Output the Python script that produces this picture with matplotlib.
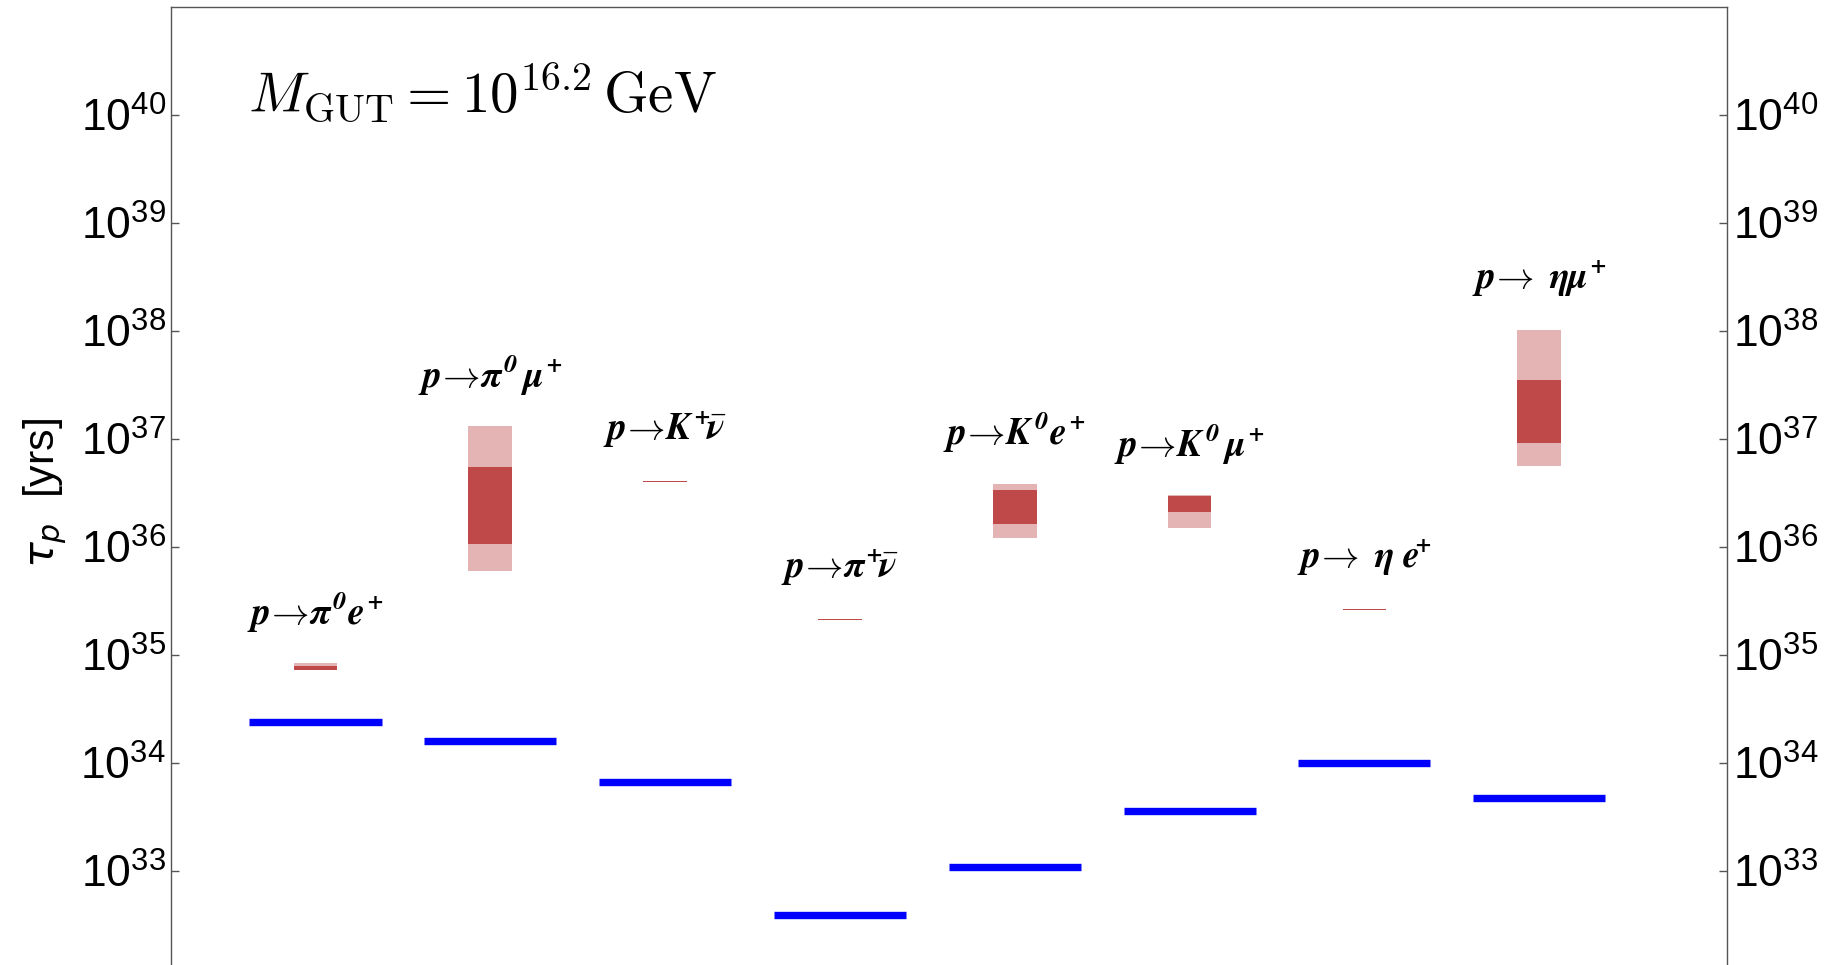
import matplotlib
matplotlib.use('Agg')
import matplotlib.pyplot as plt
from matplotlib.ticker import FixedLocator, NullLocator

plt.rcParams['font.family'] = ['Liberation Sans', 'DejaVu Sans']
plt.rcParams['mathtext.fontset'] = 'custom'
plt.rcParams['mathtext.it'] = 'STIXGeneral:italic:bold'
plt.rcParams['mathtext.rm'] = 'STIXGeneral:italic:bold'
plt.rcParams['mathtext.bf'] = 'STIXGeneral:italic:bold'

# canales de desintegracion
canales = [r'$p\!\to\! \pi^0 e^{\!+}$', r'$p\!\to\! \pi^0\, \mu^{\!+}$', r'$p\!\to\! K^{+}\!\bar{\nu}$',
           r'$p\!\to\! \pi^{+}\!\bar{\nu}$', r'$p\!\to\! K^0 e^{\!+}$', r'$p\!\to\! K^0\, \mu^{\!+}$',
           r'$p\!\to\ \eta\ e^{\!\!\!+}$', r'$p\!\to\ \eta\mu^{\!+}$']

# cotas experimentales (Super-K), en anos
limite_exp = [2.4e34, 1.6e34, 6.6e33, 3.9e32, 1.1e33, 3.6e33, 1.0e34, 4.7e33]

# predicciones: rango exterior (claro) y rango interior (oscuro), log10 de anos
ext_bajo = [34.864, 35.774, 36.599, 35.324, 36.085, 36.180, 35.414, 36.746]
ext_alto = [34.926, 37.117, 36.611, 35.336, 36.587, 36.484, 35.426, 38.010]
int_bajo = [34.864, 36.030, 36.602, 35.327, 36.210, 36.320, 35.417, 36.966]
int_alto = [34.900, 36.744, 36.608, 35.333, 36.530, 36.475, 35.423, 37.546]

# marcas del eje y
marcas_y = [1e33, 1e34, 1e35, 1e36, 1e37, 1e38, 1e39, 1e40]

pos = list(range(1, len(canales) + 1))

fig = plt.figure(figsize=(18.36, 9.65), dpi=100)
ax = fig.add_axes([0.0934, -0.0145, 0.8473, 1.0073])
ax.set_yscale('log')

claro = '#e4b4b4'
oscuro = '#bf4949'

for i, x in enumerate(pos):
    lo, hi = 10 ** ext_bajo[i], 10 ** ext_alto[i]
    ax.bar(x, hi - lo, bottom=lo, width=0.25, color=claro, linewidth=0)
    lo, hi = 10 ** int_bajo[i], 10 ** int_alto[i]
    ax.bar(x, hi - lo, bottom=lo, width=0.25, color=oscuro, linewidth=0)
    ax.text(x, 10 ** (ext_alto[i] + 0.47), canales[i], ha='center', va='center',
            fontsize=27)

ax.hlines(limite_exp, [x - 0.378 for x in pos], [x + 0.378 for x in pos],
          colors='#0000ff', linewidth=5.3, capstyle='butt')

ax.set_xlim(0.176, 9.075)
ax.set_ylim(1e32, 1e41)
ax.set_xticks([])
ax.yaxis.set_major_locator(FixedLocator(marcas_y))
ax.yaxis.set_minor_locator(NullLocator())
ax.tick_params(axis='y', which='major', direction='in', length=6, width=1,
               color='#555555', labelsize=32, left=True, right=True,
               labelleft=True, labelright=True, pad=4)
for s in ax.spines.values():
    s.set_color('#555555')
    s.set_linewidth(1)

ax.set_ylabel(r'$\tau_p$  [yrs]', fontsize=31, math_fontfamily='dejavusans', labelpad=8)

ax.text(0.049, 0.891, r'$M_{\rm GUT} = 10^{16.2}\,{\rm GeV}$', transform=ax.transAxes,
        fontsize=41, math_fontfamily='cm', ha='left', va='baseline')

plt.savefig('out.png', dpi=100)
